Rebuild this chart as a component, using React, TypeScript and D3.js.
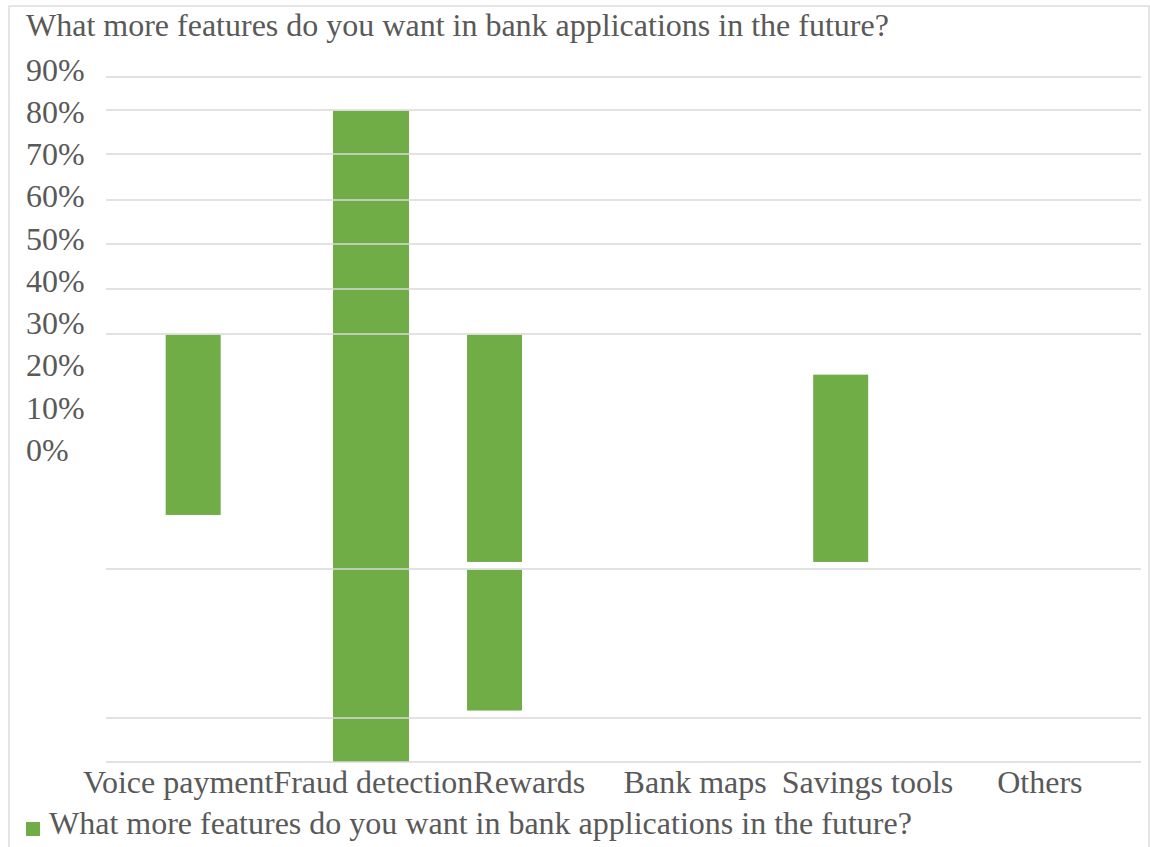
import React, { useEffect, useRef } from "react";
import * as d3 from "d3";

// ---------- data ----------
const chartTitle = "What more features do you want in bank applications in the future?";
const seriesName = "What more features do you want in bank applications in the future?";
const categories = ["Voice payment", "Fraud detection", "Rewards", "Bank maps", "Savings tools", "Others"];
const yTickLabels = ["90%", "80%", "70%", "60%", "50%", "40%", "30%", "20%", "10%", "0%"];
const gridValues = [0, 0.1, 0.2, 0.3, 0.4, 0.5, 0.6, 0.7, 0.8, 0.9];
// floating bar segments as rendered in the reference
const segmentCategory = ["Voice payment", "Fraud detection", "Rewards", "Rewards", "Savings tools"];
const segmentLow = [0.223, 0.0, 0.203, 0.105, 0.203];
const segmentHigh = [0.3, 0.8, 0.3, 0.2, 0.283];

// ---------- layout (reproduces the reference's irregular render) ----------
const W = 1150;
const H = 847;
const FONT = "'Liberation Serif', 'Times New Roman', serif";
const FS = 32;
const TEXT = "#595959";
const GRID = "#d9d9d9";
const BAR = "#70ad47";
const gridPixelY = [762, 718, 569, 334, 289, 244, 200, 154, 110, 77];
const plotLeft = 106;
const plotRight = 1141;
const barNudge: Record<string, number> = { "Voice payment": 0, "Fraud detection": 5.5, Rewards: -43.3, "Savings tools": -41.8 };
const barWidth: Record<string, number> = { "Voice payment": 55, "Fraud detection": 76, Rewards: 55, "Savings tools": 55 };
const labelNudge = -15;

export default function App() {
  const ref = useRef<SVGSVGElement | null>(null);

  useEffect(() => {
    const svg = d3.select(ref.current);
    svg.selectAll("*").remove();

    const x = d3.scaleBand<string>().domain(categories).range([plotLeft + 1, plotRight]);
    const y = d3.scaleLinear().domain(gridValues).range(gridPixelY);
    const yLabel = d3.scalePoint<string>().domain(yTickLabels).range([80.5, 461]);

    // border
    svg.append("rect")
      .attr("x", 9).attr("y", 6).attr("width", 1140).attr("height", 845)
      .attr("fill", "#fff").attr("stroke", GRID).attr("stroke-width", 1.33);

    // title
    svg.append("text")
      .attr("x", 26).attr("y", 36)
      .attr("font-family", FONT).attr("font-size", FS).attr("fill", TEXT)
      .text(chartTitle);

    // y labels
    svg.append("g").selectAll("text").data(yTickLabels).join("text")
      .attr("x", 26).attr("y", (d) => yLabel(d)!)
      .attr("font-family", FONT).attr("font-size", FS).attr("fill", TEXT)
      .text((d) => d);

    // bars
    const segs = segmentCategory.map((c, i) => ({ c, lo: segmentLow[i], hi: segmentHigh[i] }));
    svg.append("g").selectAll("rect").data(segs).join("rect")
      .attr("x", (d) => x(d.c)! + x.bandwidth() / 2 + barNudge[d.c] - barWidth[d.c] / 2)
      .attr("width", (d) => barWidth[d.c])
      .attr("y", (d) => y(d.hi) + 0.7)
      .attr("height", (d) => y(d.lo) - y(d.hi) - 0.7)
      .attr("fill", BAR);

    // gridlines (drawn over bars)
    svg.append("g").selectAll("line").data(gridValues).join("line")
      .attr("x1", plotLeft).attr("x2", plotRight)
      .attr("y1", (d) => y(d)).attr("y2", (d) => y(d))
      .attr("stroke", GRID).attr("stroke-width", 1.33);

    // category labels: centered, but pushed right when they would overlap the previous one
    const gl = svg.append("g");
    let prevEnd = -Infinity;
    categories.forEach((c) => {
      const t = gl.append("text")
        .attr("y", 793)
        .attr("font-family", FONT).attr("font-size", FS).attr("fill", TEXT)
        .text(c);
      const w = (t.node() as SVGTextElement).getComputedTextLength();
      const center = x(c)! + x.bandwidth() / 2 + labelNudge;
      const start = Math.max(center - w / 2, prevEnd);
      t.attr("x", start);
      prevEnd = start + w;
    });

    // legend
    svg.append("rect").attr("x", 26).attr("y", 822).attr("width", 14).attr("height", 14).attr("fill", BAR);
    svg.append("text")
      .attr("x", 49).attr("y", 834)
      .attr("font-family", FONT).attr("font-size", FS).attr("fill", TEXT)
      .text(seriesName);
  }, []);

  return (
    <svg
      ref={ref}
      width={W}
      height={H}
      style={{ position: "absolute", left: 0, top: 0, display: "block", background: "#fff" }}
    />
  );
}
